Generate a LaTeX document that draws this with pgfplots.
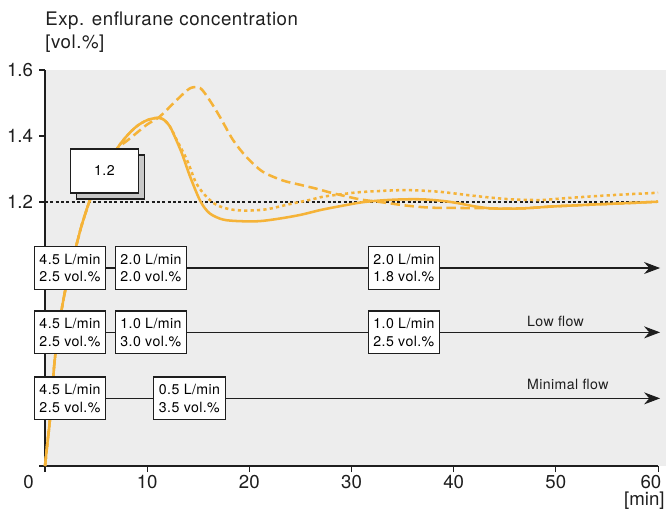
\documentclass[border=0pt]{standalone}
\usepackage{fontspec}
\setmainfont{TeX Gyre Heros}
\newfontfamily\trackedfont[LetterSpace=3]{TeX Gyre Heros}
\usepackage{pgfplots}
\usepackage{pgfplotstable}
\pgfplotsset{compat=1.18}
\usetikzlibrary{arrows.meta}

\definecolor{curve}{RGB}{245,179,56}
\definecolor{panel}{RGB}{237,237,237}
\definecolor{axisline}{RGB}{30,30,30}
\definecolor{shadowgray}{RGB}{200,200,200}

\newcommand\titlefont{\trackedfont\fontsize{14}{16}\selectfont}
\newcommand\tickfont{\fontsize{14}{16}\selectfont}
\newcommand\boxfont{\trackedfont\fontsize{10.6}{13.3}\selectfont}

% Expired enflurane concentration, 2.0 L/min maintenance
\pgfplotstableread{
t c
0 0.40
0.2 0.46
0.45 0.53
0.7 0.63
1.0 0.735
1.5 0.85
2.0 0.935
2.5 1.00
3.0 1.06
3.5 1.12
4.0 1.17
4.5 1.215
5.0 1.25
6.0 1.31
7.0 1.36
8.0 1.40
9.0 1.43
10.0 1.448
11.0 1.455
11.6 1.45
12.2 1.43
12.6 1.405
13.4 1.347
14.2 1.277
15.2 1.203
16.1 1.166
17.4 1.147
19.0 1.142
21.0 1.142
23.0 1.150
25.0 1.161
27.0 1.176
29.0 1.188
31.0 1.199
33.0 1.205
35.0 1.208
37.0 1.208
39.0 1.203
40.5 1.196
42.0 1.187
43.5 1.181
45.0 1.180
47.0 1.181
49.4 1.186
52.0 1.190
55.0 1.194
58.0 1.198
60.0 1.201
}\highflow

% Low flow, 1.0 L/min
\pgfplotstableread{
t c
0 0.40
0.2 0.46
0.45 0.53
0.7 0.63
1.0 0.735
1.5 0.85
2.0 0.935
2.5 1.00
3.0 1.06
3.5 1.12
4.0 1.17
4.5 1.215
5.0 1.25
6.0 1.31
7.0 1.36
8.0 1.40
9.0 1.43
10.0 1.448
11.0 1.455
11.6 1.45
12.2 1.43
12.9 1.388
13.9 1.327
14.8 1.257
15.8 1.216
16.8 1.191
18.1 1.178
19.7 1.174
21.7 1.178
24.0 1.194
26.0 1.207
27.2 1.216
28.9 1.223
30.5 1.229
32.5 1.233
35.4 1.236
38.6 1.231
41.9 1.219
45.2 1.209
48.4 1.206
50.7 1.211
53.0 1.216
55.6 1.221
58.0 1.225
60.0 1.228
}\lowflow

% Minimal flow, 0.5 L/min
\pgfplotstableread{
t c
0 0.40
0.2 0.46
0.45 0.53
0.7 0.63
1.0 0.735
1.5 0.85
2.0 0.935
2.5 1.00
3.0 1.06
3.5 1.12
4.0 1.17
4.5 1.215
5.0 1.25
6.0 1.31
7.0 1.36
8.0 1.385
9.0 1.41
10.0 1.435
11.2 1.458
12.5 1.497
13.5 1.527
14.3 1.546
15.2 1.545
16.1 1.509
17.1 1.459
18.4 1.388
19.7 1.337
21.3 1.292
23.3 1.265
25.0 1.252
26.6 1.240
28.0 1.228
29.5 1.217
31.0 1.207
32.8 1.200
35.4 1.189
37.7 1.183
40.3 1.182
43.5 1.181
45.0 1.180
47.0 1.181
49.4 1.186
52.0 1.190
55.0 1.194
58.0 1.198
60.0 1.201
}\minimalflow

\begin{document}
\begin{tikzpicture}[
  flowbox/.style={draw=axisline, fill=white, line width=0.8pt, align=left,
    font=\boxfont, inner xsep=4pt, inner ysep=0pt, minimum height=32pt},
  flowline/.style={draw=axisline, line width=0.8pt,
    -{Stealth[length=12pt,width=9pt]}},
]
\begin{axis}[
  scale only axis, width=459.75pt, height=297pt,
  xmin=0, xmax=60, ymin=0.4, ymax=1.6,
  clip=false,
  axis x line=bottom, axis y line=left,
  axis line style={-, line width=0.8pt, draw=axisline},
  axis background/.style={fill=panel},
  tick align=outside, major tick length=4.5pt,
  tick style={line width=0.8pt, draw=axisline},
  xtick={0,10,20,30,40,50,60}, xticklabels={,10,20,30,40,50,},
  ytick={0.4,1.2,1.4,1.6}, yticklabels={,1.2,1.4,1.6},
  /pgf/number format/assume math mode=true,
  ticklabel style={font=\tickfont, text=axisline},
  xticklabel style={anchor=base, yshift=-12pt},
  yticklabel style={anchor=east, xshift=-1pt},
]
% panel continues slightly past the last tick
\fill[panel] (axis cs:60,0.4) rectangle (axis cs:60.78,1.6);

% target concentration
\addplot[axisline, line width=0.8pt, dash pattern=on 2.2pt off 1.8pt]
  coordinates {(0,1.2) (60,1.2)};

\addplot[curve, line width=1.9pt, smooth] table[x=t, y=c] {\highflow};
\addplot[curve, line width=1.9pt, smooth, dash pattern=on 2.4pt off 2.4pt]
  table[x=t, y=c] {\lowflow};
\addplot[curve, line width=1.9pt, smooth, dash pattern=on 7pt off 3.5pt]
  table[x=t, y=c] {\minimalflow};

% set-point label
\node[draw=axisline, fill=shadowgray, line width=0.8pt, minimum width=51pt,
  minimum height=33pt] at ([xshift=4.5pt, yshift=-4.5pt]axis cs:5.82,1.294) {};
\node[draw=axisline, fill=white, line width=0.8pt, minimum width=51pt,
  minimum height=33pt, font=\boxfont] at (axis cs:5.82,1.294) {1.2};

% fresh gas schedules
\addplot[flowline] coordinates {(0,1.0) (60.2,1.0)};
\addplot[flowline] coordinates {(0,0.805) (60.2,0.805)};
\addplot[flowline] coordinates {(0,0.605) (60.2,0.605)};

\node[flowbox] at (axis cs:2.45,1.0) {4.5 L/min\\2.5 vol.\%};
\node[flowbox] at (axis cs:10.37,1.0) {2.0 L/min\\2.0 vol.\%};
\node[flowbox] at (axis cs:35.13,1.0) {2.0 L/min\\1.8 vol.\%};

\node[flowbox] at (axis cs:2.45,0.805) {4.5 L/min\\2.5 vol.\%};
\node[flowbox] at (axis cs:10.37,0.805) {1.0 L/min\\3.0 vol.\%};
\node[flowbox] at (axis cs:35.13,0.805) {1.0 L/min\\2.5 vol.\%};

\node[flowbox] at (axis cs:2.45,0.605) {4.5 L/min\\2.5 vol.\%};
\node[flowbox] at (axis cs:14.14,0.605) {0.5 L/min\\3.5 vol.\%};

\node[anchor=base west, font=\boxfont, inner sep=0pt, text=axisline]
  at (axis cs:47.16,0.824) {Low flow};
\node[anchor=base west, font=\boxfont, inner sep=0pt, text=axisline]
  at (axis cs:47.16,0.633) {Minimal flow};

% outer tick labels and axis titles
\node[anchor=base, font=\tickfont, inner sep=0pt, text=axisline]
  at (axis cs:-1.6,0.3333) {0};
\node[anchor=base, font=\tickfont, inner sep=0pt, text=axisline]
  at (axis cs:59.3,0.3333) {60};
\node[anchor=base east, font=\tickfont, inner sep=0pt, text=axisline]
  at (axis cs:60.67,0.279) {[min]};
\node[anchor=base west, font=\titlefont, inner sep=0pt, text=axisline]
  at (axis cs:0,1.736) {Exp. enflurane concentration};
\node[anchor=base west, font=\titlefont, inner sep=0pt, text=axisline]
  at (axis cs:0,1.666) {[vol.\%]};

\coordinate (bbsw) at (axis cs:-4.405,0.2606);
\coordinate (bbne) at (axis cs:60.78,1.8121);
\end{axis}
\pgfresetboundingbox
\useasboundingbox (bbsw) rectangle (bbne);
\end{tikzpicture}
\end{document}
